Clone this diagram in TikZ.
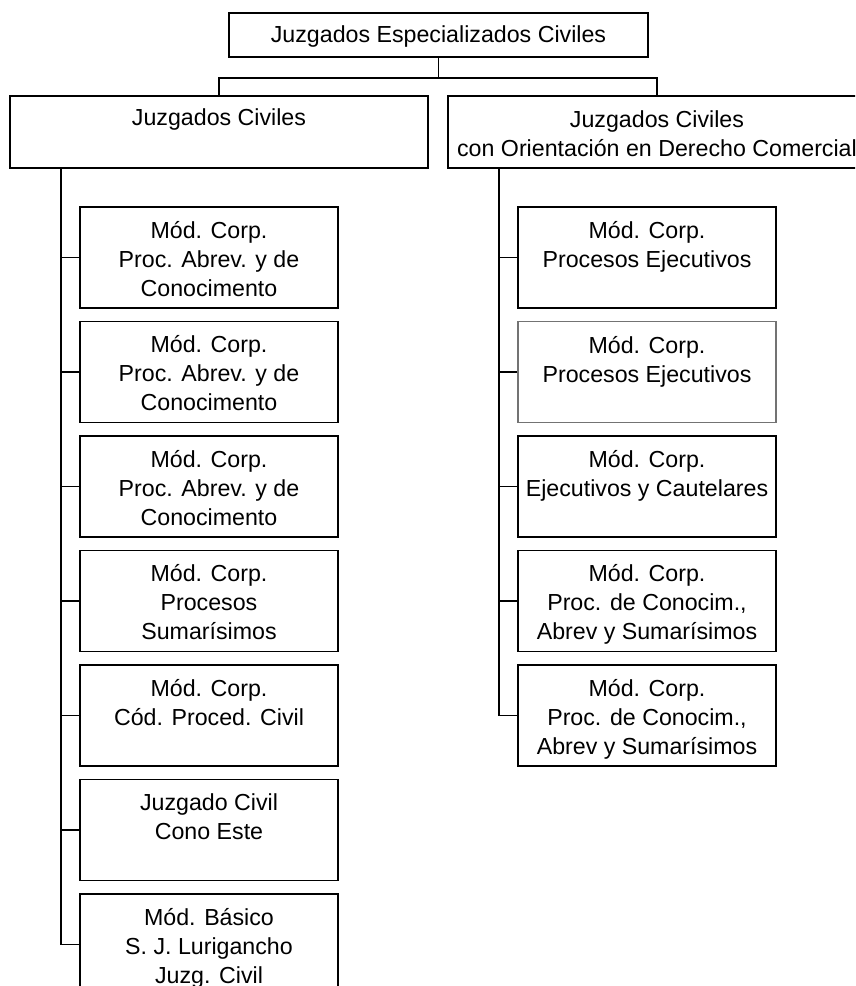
\documentclass[tikz,border=0pt]{standalone}
\usepackage{fontspec}
\setmainfont{Liberation Sans}
\begin{document}
\begin{tikzpicture}[x=1pt,y=-1pt,
  box/.style={draw=black,line width=1.6pt,rectangle,inner sep=0pt},
  lbox/.style={draw=black!55,line width=1.1pt,rectangle,inner sep=0pt},
  txt/.style={anchor=north,inner sep=0pt,align=center,
    font=\fontsize{23.2}{28.8}\selectfont,
    execute at begin node={\rule{0pt}{24pt}}},
  mtxt/.style={txt,yshift=-8.5pt},
  conn/.style={line width=1.6pt}]
\useasboundingbox (0,0) rectangle (855,986);
\clip (0,0) rectangle (855,986);
\fill[white] (0,0) rectangle (855,986);
% top
\node[box,minimum width=419pt,minimum height=44pt] (top) at (438.5,35) {};
\node[txt] (topt) at ([yshift=-6.5pt]top.north) {Juzgados Especializados Civiles};
% level 2
\node[box,minimum width=418pt,minimum height=72pt] (L0) at (219,132) {};
\node[txt] (L0t) at ([yshift=-6.5pt]L0.north) {Juzgados Civiles};
\node[box,minimum width=418pt,minimum height=72pt] (R0) at (657,132) {};
\node[mtxt] (R0t) at ([yshift=-6.5pt]R0.north) {Juzgados Civiles\\con Orientación en Derecho Comercial};
\draw[conn] (top.south) -- ++(0,20) coordinate (bar) -| (L0.north);
\draw[conn] (bar) -| (R0.north);
% left children
\tikzset{cb/.style={box,minimum width=258pt,minimum height=101pt}}
\node[cb] (L1) at (209,257.5) {};
\node[cb] (L2) at (209,372) {};
\node[cb] (L3) at (209,486.5) {};
\node[cb] (L4) at (209,601) {};
\node[cb] (L5) at (209,715.5) {};
\node[cb] (L6) at (209,830) {};
\node[cb] (L7) at (209,944.5) {};
\node[mtxt] (L1t) at ([yshift=-6.5pt]L1.north) {Mód. Corp.\\Proc. Abrev. y de\\Conocimento};
\node[mtxt] (L2t) at ([yshift=-6.5pt]L2.north) {Mód. Corp.\\Proc. Abrev. y de\\Conocimento};
\node[mtxt] (L3t) at ([yshift=-6.5pt]L3.north) {Mód. Corp.\\Proc. Abrev. y de\\Conocimento};
\node[mtxt] (L4t) at ([yshift=-6.5pt]L4.north) {Mód. Corp.\\Procesos\\Sumarísimos};
\node[mtxt] (L5t) at ([yshift=-6.5pt]L5.north) {Mód. Corp.\\Cód. Proced. Civil};
\node[mtxt] (L6t) at ([yshift=-6.5pt]L6.north) {Juzgado Civil\\Cono Este};
\node[mtxt] (L7t) at ([yshift=-6.5pt]L7.north) {Mód. Básico\\S. J. Lurigancho\\Juzg. Civil};
% right children
\node[cb] (R1) at (647,257.5) {};
\node[cb,lbox] (R2) at (647,372) {};
\node[cb] (R3) at (647,486.5) {};
\node[cb] (R4) at (647,601) {};
\node[cb] (R5) at (647,715.5) {};
\node[mtxt] (R1t) at ([yshift=-6.5pt]R1.north) {Mód. Corp.\\Procesos Ejecutivos};
\node[mtxt] (R2t) at ([yshift=-6.5pt]R2.north) {Mód. Corp.\\Procesos Ejecutivos};
\node[mtxt] (R3t) at ([yshift=-6.5pt]R3.north) {Mód. Corp.\\Ejecutivos y Cautelares};
\node[mtxt] (R4t) at ([yshift=-6.5pt]R4.north) {Mód. Corp.\\Proc. de Conocim.,\\Abrev y Sumarísimos};
\node[mtxt] (R5t) at ([yshift=-6.5pt]R5.north) {Mód. Corp.\\Proc. de Conocim.,\\Abrev y Sumarísimos};
% trunks
\coordinate (trL) at (61,168);
\coordinate (trR) at (499,168);
\draw[conn] (trL) |- (L7.west);
\foreach \n in {L1,L2,L3,L4,L5,L6} \draw[conn] (\n.west) -- (\n.west -| trL);
\draw[conn] (trR) |- (R5.west);
\foreach \n in {R1,R2,R3,R4} \draw[conn] (\n.west) -- (\n.west -| trR);
\end{tikzpicture}
\end{document}
